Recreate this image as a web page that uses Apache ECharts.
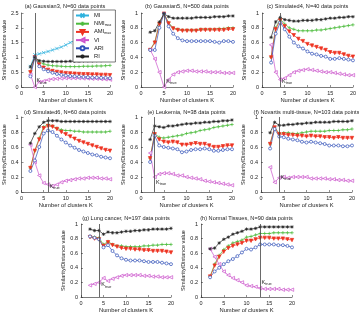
<!DOCTYPE html>
<html><head><meta charset="utf-8">
<script src="https://cdn.jsdelivr.net/npm/echarts@6/dist/echarts.min.js"></script>
<style>html,body{margin:0;padding:0;background:#fff}#c{width:359px;height:316px}</style>
</head><body><div id="c"></div>
<script>
const ks = [2,3,4,5,6,7,8,9,10,11,12,13,14,15,16,17,18,19,20];
const titles = ["(a) Gaussian3, N=60 data points","(b) Gaussian5, N=500 data points","(c) Simulated4, N=40 data points","(d) Simulated6, N=60 data points","(e) Leukemia, N=38 data points","(f) Novartis multi-tissue, N=103 data points","(g) Lung cancer, N=197 data points","(h) Normal Tissues, N=90 data points"];
const kTrue = [3,5,4,6,3,4,4,13];
const yMax = [2.5,1,1,1,1,1,1,1];
const yStep = [0.5,0.2,0.2,0.2,0.2,0.2,0.2,0.2];
const xTicks = [0,5,10,15,20];

const a_MI  = [0.69,1.09,1.12,1.16,1.20,1.25,1.30,1.35,1.42,1.50,1.57,1.63,1.70,1.76,1.82,1.88,1.94,2.00,2.05];
const a_NMI = [0.52,1.00,0.84,0.78,0.74,0.72,0.71,0.70,0.69,0.69,0.69,0.69,0.70,0.70,0.70,0.71,0.71,0.72,0.73];
const a_AMI = [0.50,1.00,0.76,0.65,0.58,0.54,0.51,0.49,0.47,0.46,0.45,0.44,0.43,0.43,0.42,0.42,0.41,0.41,0.40];
const a_VI  = [0.42,0.00,0.17,0.20,0.24,0.27,0.28,0.29,0.30,0.30,0.30,0.30,0.29,0.29,0.28,0.28,0.27,0.26,0.25];
const a_ARI = [0.36,1.00,0.70,0.60,0.53,0.48,0.44,0.41,0.39,0.37,0.36,0.35,0.34,0.33,0.32,0.32,0.31,0.31,0.30];
const a_RI  = [0.68,1.00,0.89,0.87,0.86,0.86,0.86,0.86,0.86,0.87,0.87,0.87,0.88,0.88,0.88,0.89,0.89,0.90,0.90];

const b_NMI = [0.50,0.61,0.86,0.99,0.87,0.80,0.78,0.77,0.77,0.77,0.77,0.78,0.78,0.78,0.78,0.79,0.79,0.80,0.80];
const b_AMI = [0.50,0.60,0.85,0.99,0.86,0.79,0.77,0.76,0.76,0.76,0.76,0.77,0.77,0.77,0.77,0.77,0.77,0.78,0.78];
const b_VI  = [0.50,0.38,0.20,0.00,0.10,0.17,0.20,0.21,0.22,0.22,0.21,0.21,0.21,0.20,0.20,0.20,0.19,0.19,0.19];
const b_ARI = [0.50,0.50,0.80,0.99,0.82,0.72,0.66,0.63,0.62,0.62,0.62,0.62,0.62,0.62,0.61,0.60,0.62,0.62,0.61];
const b_RI  = [0.74,0.76,0.88,0.99,0.95,0.93,0.93,0.93,0.93,0.93,0.94,0.94,0.94,0.94,0.95,0.95,0.95,0.96,0.96];

const c_NMI = [0.40,0.80,0.92,0.85,0.80,0.78,0.76,0.76,0.76,0.76,0.77,0.77,0.78,0.79,0.80,0.81,0.82,0.83,0.84];
const c_AMI = [0.40,0.78,0.90,0.82,0.75,0.70,0.65,0.62,0.58,0.56,0.54,0.52,0.50,0.47,0.46,0.46,0.44,0.42,0.41];
const c_VI  = [0.57,0.20,0.10,0.12,0.16,0.20,0.22,0.23,0.24,0.23,0.22,0.21,0.20,0.20,0.19,0.18,0.17,0.16,0.16];
const c_ARI = [0.33,0.72,0.87,0.78,0.68,0.60,0.55,0.52,0.48,0.45,0.44,0.42,0.41,0.38,0.38,0.39,0.38,0.37,0.36];
const c_RI  = [0.67,0.88,0.94,0.91,0.90,0.89,0.89,0.90,0.90,0.90,0.91,0.91,0.92,0.93,0.93,0.94,0.94,0.95,0.95];

const d_NMI = [0.32,0.55,0.72,0.87,0.90,0.88,0.85,0.83,0.82,0.82,0.81,0.81,0.80,0.80,0.80,0.80,0.80,0.80,0.81];
const d_AMI = [0.32,0.55,0.70,0.85,0.88,0.87,0.84,0.80,0.77,0.74,0.71,0.68,0.66,0.64,0.62,0.60,0.58,0.56,0.55];
const d_VI  = [0.63,0.40,0.22,0.12,0.10,0.08,0.10,0.13,0.15,0.16,0.17,0.18,0.18,0.19,0.19,0.19,0.18,0.18,0.17];
const d_ARI = [0.28,0.42,0.60,0.78,0.82,0.80,0.75,0.70,0.66,0.62,0.59,0.56,0.54,0.52,0.50,0.49,0.47,0.46,0.45];
const d_RI  = [0.65,0.78,0.87,0.93,0.95,0.95,0.95,0.94,0.94,0.94,0.94,0.94,0.94,0.94,0.94,0.94,0.94,0.94,0.94];

const e_NMI = [0.45,0.78,0.73,0.72,0.73,0.74,0.75,0.76,0.78,0.79,0.80,0.82,0.83,0.84,0.86,0.87,0.88,0.89,0.90];
const e_AMI = [0.45,0.77,0.70,0.67,0.66,0.67,0.66,0.63,0.63,0.64,0.65,0.64,0.64,0.62,0.60,0.60,0.61,0.62,0.62];
const e_VI  = [0.52,0.20,0.24,0.25,0.25,0.24,0.22,0.22,0.20,0.19,0.18,0.17,0.15,0.14,0.13,0.12,0.11,0.10,0.09];
const e_ARI = [0.40,0.75,0.62,0.60,0.59,0.58,0.57,0.53,0.54,0.56,0.57,0.57,0.58,0.57,0.55,0.55,0.56,0.57,0.57];
const e_RI  = [0.70,0.88,0.87,0.86,0.88,0.88,0.89,0.90,0.91,0.91,0.92,0.92,0.93,0.93,0.94,0.94,0.95,0.95,0.96];

const f_NMI = [0.64,0.86,0.78,0.79,0.79,0.78,0.78,0.79,0.80,0.81,0.81,0.81,0.81,0.82,0.82,0.82,0.83,0.83,0.84];
const f_AMI = [0.64,0.86,0.77,0.77,0.76,0.76,0.75,0.75,0.74,0.75,0.74,0.74,0.73,0.73,0.72,0.73,0.72,0.72,0.72];
const f_VI  = [0.33,0.13,0.19,0.20,0.19,0.20,0.20,0.20,0.20,0.18,0.18,0.18,0.18,0.17,0.17,0.16,0.16,0.15,0.15];
const f_ARI = [0.58,0.84,0.74,0.73,0.71,0.70,0.69,0.67,0.66,0.67,0.66,0.65,0.64,0.62,0.62,0.62,0.61,0.61,0.62];
const f_RI  = [0.79,0.93,0.89,0.89,0.90,0.90,0.91,0.91,0.92,0.92,0.93,0.93,0.93,0.93,0.94,0.94,0.94,0.94,0.95];

const g_NMI = [0.83,0.82,0.81,0.72,0.76,0.72,0.70,0.70,0.69,0.69,0.69,0.69,0.70,0.70,0.71,0.71,0.72,0.72,0.72];
const g_AMI = [0.82,0.80,0.79,0.70,0.75,0.71,0.69,0.67,0.66,0.66,0.65,0.65,0.64,0.64,0.63,0.63,0.63,0.62,0.61];
const g_VI  = [0.16,0.18,0.20,0.26,0.22,0.25,0.27,0.29,0.30,0.30,0.30,0.30,0.29,0.29,0.28,0.28,0.27,0.27,0.27];
const g_ARI = [0.83,0.81,0.79,0.68,0.71,0.63,0.57,0.53,0.51,0.50,0.50,0.50,0.49,0.48,0.48,0.48,0.47,0.46,0.45];
const g_RI  = [0.93,0.91,0.91,0.86,0.89,0.88,0.88,0.89,0.90,0.90,0.91,0.91,0.92,0.92,0.93,0.93,0.93,0.93,0.94];

const h_NMI = [0.28,0.45,0.57,0.65,0.70,0.74,0.76,0.78,0.82,0.83,0.85,0.87,0.87,0.87,0.88,0.88,0.88,0.88,0.88];
const h_AMI = [0.28,0.43,0.55,0.62,0.67,0.70,0.72,0.74,0.77,0.77,0.79,0.81,0.81,0.81,0.80,0.80,0.80,0.79,0.78];
const h_VI  = [0.66,0.55,0.45,0.35,0.30,0.26,0.23,0.20,0.16,0.15,0.14,0.12,0.11,0.11,0.11,0.11,0.10,0.10,0.10];
const h_ARI = [0.27,0.35,0.40,0.45,0.49,0.52,0.56,0.61,0.66,0.65,0.68,0.72,0.72,0.72,0.72,0.71,0.71,0.70,0.68];
const h_RI  = [0.66,0.67,0.74,0.79,0.82,0.86,0.88,0.90,0.93,0.93,0.94,0.96,0.96,0.96,0.96,0.96,0.96,0.96,0.96];

const labelPos = [[3.4,0.22],[5.5,0.08],[4.4,0.08],[6.3,0.08],[3.3,0.13],[4.3,0.2],[4.5,0.17],[13.3,0.2]];

const panels = [
  {MI:a_MI,NMI:a_NMI,AMI:a_AMI,VI:a_VI,ARI:a_ARI,RI:a_RI},
  {NMI:b_NMI,AMI:b_AMI,VI:b_VI,ARI:b_ARI,RI:b_RI},
  {NMI:c_NMI,AMI:c_AMI,VI:c_VI,ARI:c_ARI,RI:c_RI},
  {NMI:d_NMI,AMI:d_AMI,VI:d_VI,ARI:d_ARI,RI:d_RI},
  {NMI:e_NMI,AMI:e_AMI,VI:e_VI,ARI:e_ARI,RI:e_RI},
  {NMI:f_NMI,AMI:f_AMI,VI:f_VI,ARI:f_ARI,RI:f_RI},
  {NMI:g_NMI,AMI:g_AMI,VI:g_VI,ARI:g_ARI,RI:g_RI},
  {NMI:h_NMI,AMI:h_AMI,VI:h_VI,ARI:h_ARI,RI:h_RI}
];

const styles = {
  MI:  {color:'#2fb2de', symbol:'path://M0,0L10,10M10,0L0,10', fill:'none'},
  NMI: {color:'#4cbb3c', symbol:'path://M5,0L5,10M0,5L10,5', fill:'none'},
  AMI: {color:'#ee3322', symbol:'path://M0,0L10,0L5,9Z', fill:'#ee3322'},
  VI:  {color:'#cc55cc', symbol:'path://M0,5L9,0L9,10Z', fill:'#fff'},
  ARI: {color:'#3050b8', symbol:'circle', fill:'#fff'},
  RI:  {color:'#222222', symbol:'path://M5,0L5,10M0,5L10,5M1.5,1.5L8.5,8.5M8.5,1.5L1.5,8.5', fill:'none'}
};
const order = ['MI','NMI','AMI','VI','ARI','RI'];

// grid boxes [left, top, width, height]
const boxes = [
  [20,13,90,74],[141,13,92,74],[262,13,91,74],
  [20,117,90,75],[141,117,91,75],[261,117,91,75],
  [81,224,90,73],[201,224,91,73]
];
const titleGap = [10,10,10,8,8,8,9,9];

const FONT = 'Liberation Sans, Arial, sans-serif';
const grid=[], xAxis=[], yAxis=[], series=[], title=[];
boxes.forEach((b,i)=>{
  grid.push({left:b[0],top:b[1],width:b[2],height:b[3],containLabel:false});
  title.push({text:titles[i], left:b[0]+b[2]/2, top:b[1]-titleGap[i], textAlign:'center', padding:0,
    textStyle:{fontSize:5.6,fontWeight:'normal',color:'#222',fontFamily:FONT}});
  xAxis.push({gridIndex:i,type:'value',min:0,max:20,interval:5,
    name:'Number of clusters K',nameLocation:'middle',nameGap:9,
    nameTextStyle:{fontSize:5.8,color:'#222',fontFamily:FONT},
    axisLine:{lineStyle:{color:'#222',width:0.6}},
    axisTick:{inside:true,length:2,lineStyle:{color:'#222',width:0.5}},
    axisLabel:{fontSize:5.5,color:'#222',margin:3,fontFamily:FONT},
    splitLine:{show:false}});
  yAxis.push({gridIndex:i,type:'value',min:0,max:yMax[i],interval:yStep[i],
    name:'Similarity/Distance value',nameLocation:'middle',nameGap:i===0?14:13,
    nameTextStyle:{fontSize:5.6,color:'#222',fontFamily:FONT},
    axisLine:{show:true,lineStyle:{color:'#222',width:0.6}},
    axisTick:{show:true,inside:true,length:2,lineStyle:{color:'#222',width:0.5}},
    axisLabel:{fontSize:5.5,color:'#222',margin:3,fontFamily:FONT},
    splitLine:{show:false}});
  const p = panels[i];
  order.forEach(name=>{
    if(!p[name]) return;
    const st = styles[name];
    const s = {type:'line',name:name,xAxisIndex:i,yAxisIndex:i,
      data:ks.map((k,j)=>[k,p[name][j]]),
      symbol:st.symbol,symbolSize:name==='ARI'?3:3.4,showSymbol:true,
      lineStyle:{color:st.color,width:0.7},
      itemStyle:{color:st.fill==='none'?st.color:st.fill,borderColor:st.color,borderWidth:0.7},
      animation:false,z:3};
    if(name==='RI'){
      s.markLine={silent:true,symbol:['none','none'],animation:false,
        lineStyle:{color:'#444',width:0.8,type:'solid'},label:{show:false},
        data:[{xAxis:kTrue[i]}]};
      s.markPoint={silent:true,animation:false,symbol:'circle',symbolSize:0,
        data:[{coord:labelPos[i]}],
        label:{show:true,position:'right',distance:0,formatter:'{k|K}{t|true}',
          rich:{k:{fontSize:5.5,color:'#222',fontFamily:FONT},t:{fontSize:3.8,color:'#222',padding:[4,0,0,0],fontFamily:FONT}}}};
    }
    series.push(s);
  });
});

const chart = echarts.init(document.getElementById('c'),null,{renderer:'canvas'});
chart.setOption({
  animation:false,
  title:title, grid:grid, xAxis:xAxis, yAxis:yAxis, series:series,
  legend:{data:order,orient:'vertical',left:73,top:10,itemWidth:13,itemHeight:5,itemGap:1.2,
    backgroundColor:'#fff',borderColor:'#222',borderWidth:0.6,padding:[2,4,2,2],z:10,
    textStyle:{fontSize:5.8,color:'#222',fontFamily:FONT,lineHeight:7,
      rich:{n:{fontSize:5.8,color:'#222',fontFamily:FONT,lineHeight:7,verticalAlign:'top'},
            s:{fontSize:3.6,color:'#222',fontFamily:FONT,lineHeight:7,verticalAlign:'bottom'}}},
    formatter:function(n){return (n==='NMI'||n==='AMI')?'{n|'+n+'}{s|max}':n;}}
});
</script></body></html>
